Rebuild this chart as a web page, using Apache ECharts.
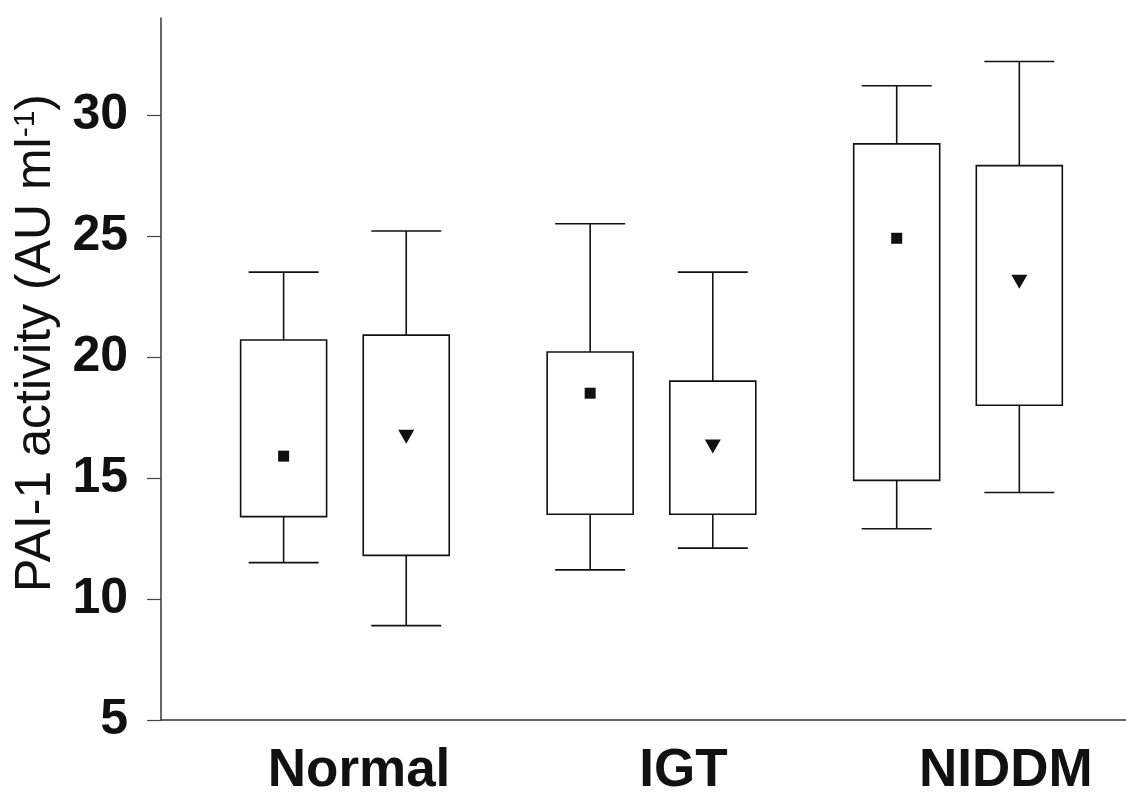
<!DOCTYPE html>
<html lang="en">
<head>
<meta charset="utf-8">
<script src="https://cdn.jsdelivr.net/npm/echarts@6/dist/echarts.min.js"></script>
<style>
  html, body { margin: 0; padding: 0; background: #fff; }
  #chart { width: 1126px; height: 797px; }
</style>
</head>
<body>
<div id="chart"></div>
<script>
// groups and where their names sit on the x scale
var groups = ['Normal', 'IGT', 'NIDDM'];
var groupLabelAt = [3.23, 8.52, 13.78];

// box positions on the x scale (two boxes per group)
var boxAt = [2, 4, 7, 9, 12, 14];

// box statistics, PAI-1 activity (AU ml-1)
var whiskerLow  = [11.5, 8.9, 11.2, 12.1, 12.9, 14.4];
var quartile1   = [13.4, 11.8, 13.5, 13.5, 14.9, 18.0];
var quartile3   = [20.7, 20.9, 20.2, 19.0, 28.8, 27.9];
var whiskerHigh = [23.5, 25.2, 25.5, 23.5, 31.2, 32.2];

// means: left box of each group (square), right box (triangle)
var meanLeft  = [15.9, 18.5, 24.9];
var meanRight = [16.7, 16.3, 23.1];

var boxData = boxAt.map(function (x, i) {
  return [x, whiskerLow[i], quartile1[i], quartile3[i], whiskerHigh[i]];
});
var leftData = meanLeft.map(function (v, i) { return [boxAt[i * 2], v]; });
var rightData = meanRight.map(function (v, i) { return [boxAt[i * 2 + 1], v]; });

var ink = '#111';

function renderBox(params, api) {
  var x = api.value(0);
  var lo = api.coord([x, api.value(1)]);
  var b = api.coord([x, api.value(2)]);
  var t = api.coord([x, api.value(3)]);
  var hi = api.coord([x, api.value(4)]);
  var bw = 86, cw = 70;
  var st = { stroke: ink, lineWidth: 1.6 };
  return {
    type: 'group',
    children: [
      { type: 'line', shape: { x1: hi[0], y1: hi[1], x2: t[0], y2: t[1] }, style: st },
      { type: 'line', shape: { x1: lo[0], y1: lo[1], x2: b[0], y2: b[1] }, style: st },
      { type: 'line', shape: { x1: hi[0] - cw / 2, y1: hi[1], x2: hi[0] + cw / 2, y2: hi[1] }, style: st },
      { type: 'line', shape: { x1: lo[0] - cw / 2, y1: lo[1], x2: lo[0] + cw / 2, y2: lo[1] }, style: st },
      {
        type: 'rect',
        shape: { x: t[0] - bw / 2, y: t[1], width: bw, height: b[1] - t[1] },
        style: { stroke: ink, lineWidth: 1.6, fill: '#fff' }
      }
    ]
  };
}

var chart = echarts.init(document.getElementById('chart'));

var option = {
  backgroundColor: '#fff',
  animation: false,
  grid: { left: 161, right: 0, top: 18, bottom: 77, containLabel: false, outerBoundsMode: 'none' },
  xAxis: {
    type: 'value',
    min: 0,
    max: 15.74,
    axisLine: { show: true, lineStyle: { color: '#333', width: 1.5 } },
    axisTick: { show: false },
    splitLine: { show: false },
    axisLabel: {
      customValues: groupLabelAt,
      margin: 25,
      fontSize: 53,
      fontWeight: 'bold',
      fontFamily: 'Liberation Sans',
      color: ink,
      formatter: function (v) {
        var i = groupLabelAt.indexOf(v);
        return i >= 0 ? groups[i] : '';
      }
    }
  },
  yAxis: {
    type: 'value',
    min: 5,
    max: 34,
    interval: 5,
    name: 'PAI-1 activity (AU ml{sup|-1})',
    nameLocation: 'middle',
    nameGap: 100,
    nameTextStyle: {
      fontSize: 50,
      fontFamily: 'Liberation Sans',
      color: ink,
      padding: [0, 0, 0, 52],
      rich: {
        sup: { fontSize: 30, fontFamily: 'Liberation Sans', color: ink, verticalAlign: 'top' }
      }
    },
    axisLine: { show: true, lineStyle: { color: '#333', width: 1.5 } },
    axisTick: { show: true, length: 14, lineStyle: { color: '#444', width: 1.2 } },
    splitLine: { show: false },
    axisLabel: {
      margin: 33,
      fontSize: 50,
      fontWeight: 'bold',
      fontFamily: 'Liberation Sans',
      color: ink,
      showMaxLabel: false
    }
  },
  series: [
    {
      type: 'custom',
      renderItem: renderBox,
      data: boxData,
      z: 2
    },
    {
      type: 'scatter',
      data: leftData,
      symbol: 'rect',
      symbolSize: 11,
      itemStyle: { color: ink, opacity: 1 },
      z: 5
    },
    {
      type: 'scatter',
      data: rightData,
      symbol: 'triangle',
      symbolRotate: 180,
      symbolSize: [16, 14],
      itemStyle: { color: ink, opacity: 1 },
      z: 5
    }
  ]
};

chart.setOption(option);
</script>
</body>
</html>
